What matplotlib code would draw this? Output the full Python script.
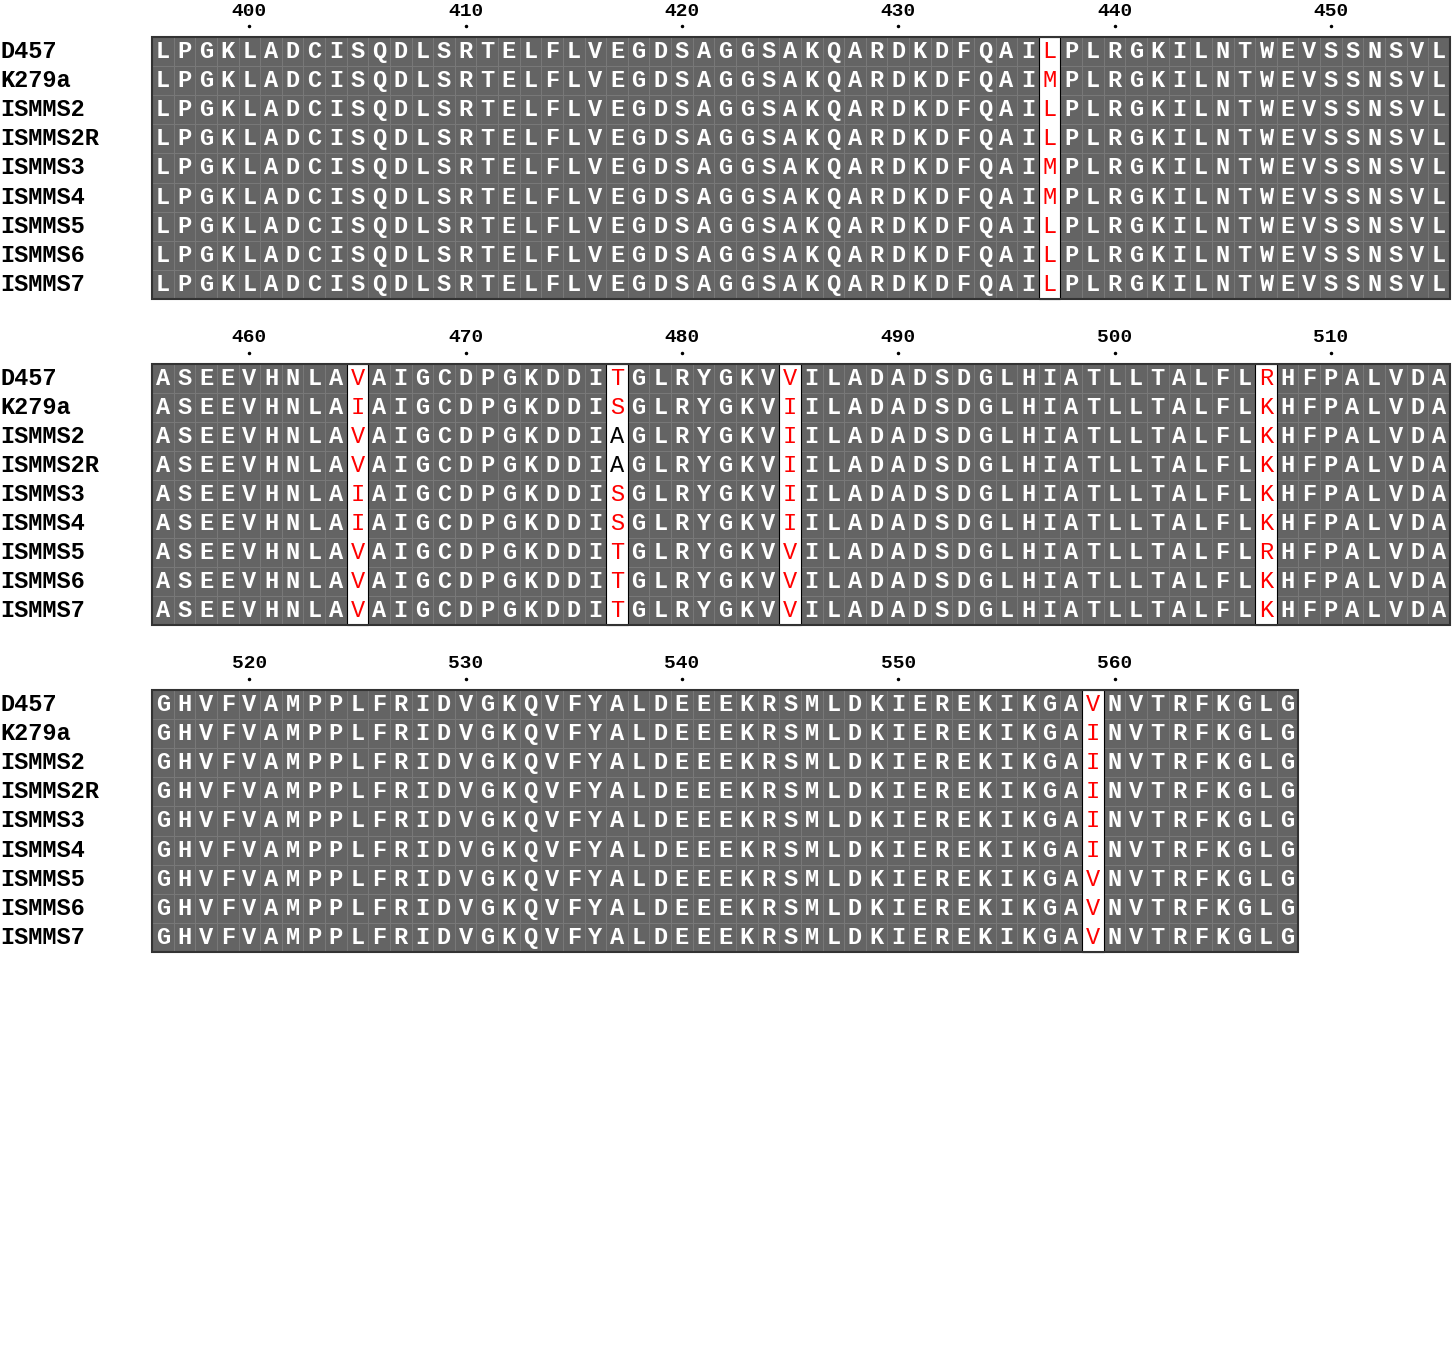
import matplotlib.pyplot as plt
from matplotlib.patches import Rectangle

names = ["D457", "K279a", "ISMMS2", "ISMMS2R", "ISMMS3", "ISMMS4", "ISMMS5", "ISMMS6", "ISMMS7"]
block_starts = [396, 456, 516]
consensus = [
    "LPGKLADCISQDLSRTELFLVEGDSAGGSAKQARDKDFQAI?PLRGKILNTWEVSSNSVL",
    "ASEEVHNLA?AIGCDPGKDDI?GLRYGKV?ILADADSDGLHIATLLTALFL?HFPALVDA",
    "GHVFVAMPPLFRIDVGKQVFYALDEEEKRSMLDKIEREKIKGA?NVTRFKGLG",
]
# variable positions: (block, column) -> residue per sequence
variable = {
    (0, 41): "LMLLMMLLL",
    (1, 9): "VIVVIIVVV",
    (1, 21): "TSAASSTTT",
    (1, 29): "VIIIIIVVV",
    (1, 51): "RKKKKKRKK",
    (2, 43): "VIIIIIVVV",
}
ticks = [[400, 410, 420, 430, 440, 450], [460, 470, 480, 490, 500, 510], [520, 530, 540, 550, 560]]

x0, cw, ch = 152, 21.63, 29.1
block_top = [37, 363.5, 690]
font = "Liberation Mono"

fig = plt.figure(figsize=(14.52, 13.56), dpi=100)
ax = fig.add_axes([0, 0, 1, 1])
ax.set_xlim(0, 1452)
ax.set_ylim(1356, 0)
ax.axis("off")

for b, seq in enumerate(consensus):
    top = block_top[b]
    n = len(seq)
    for t in ticks[b]:
        c = t - block_starts[b]
        xc = x0 + (c + 0.5) * cw
        ax.text(xc, top - 26, str(t), ha="center", va="center", fontsize=14,
                fontweight="bold", family=font)
        ax.plot([xc], [top - 11], "k.", ms=3)
    for r, name in enumerate(names):
        yc = top + (r + 0.5) * ch
        ax.text(0, yc, name, ha="left", va="center", fontsize=17, fontweight="bold", family=font)
        for c in range(n):
            x = x0 + c * cw
            if (b, c) in variable:
                res = variable[(b, c)][r]
                col = variable[(b, c)]
                colr = "black" if col.count(res) <= 2 and res == "A" else "red"
                ax.add_patch(Rectangle((x, top + r * ch), cw, ch, fc="white", ec="none"))
                ax.text(x + cw / 2, yc, res, ha="center", va="center", fontsize=17,
                        color=colr, family=font)
            else:
                ax.add_patch(Rectangle((x, top + r * ch), cw, ch, fc="#646464",
                                       ec="#7a7a7a", lw=0.6))
                ax.text(x + cw / 2, yc, seq[c], ha="center", va="center", fontsize=17,
                        color="white", fontweight="bold", family=font)
    for (bb, c) in variable:
        if bb == b:
            ax.add_patch(Rectangle((x0 + c * cw, top), cw, 9 * ch, fc="none", ec="black", lw=0.8))
    ax.add_patch(Rectangle((x0, top), n * cw, 9 * ch, fc="none", ec="#333333", lw=1.5))

fig.savefig("out.png", dpi=100)
